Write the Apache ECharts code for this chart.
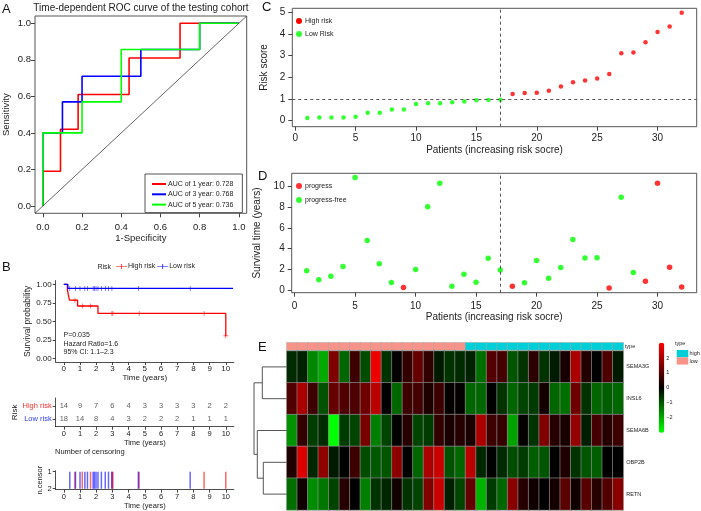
<!DOCTYPE html>
<html><head><meta charset="utf-8">
<script src="https://cdn.jsdelivr.net/npm/echarts@6/dist/echarts.min.js"></script>
<style>html,body{margin:0;padding:0;background:#fff}#c{width:701px;height:511px}</style>
</head><body><div id="c"></div>
<script>
// ================= DATA =================
// Panel A - time-dependent ROC (step curves)
const rocYears = [1, 3, 5];
const rocAUC = ['0.728', '0.768', '0.736'];
const roc1FPR = [0, 0, 0.09, 0.09, 0.18, 0.18, 0.44, 0.44, 0.70, 0.70, 1];
const roc1TPR = [0, 0.19, 0.19, 0.42, 0.42, 0.61, 0.61, 0.81, 0.81, 1, 1];
const roc3FPR = [0, 0, 0.10, 0.10, 0.20, 0.20, 0.50, 0.50, 0.80, 0.80, 1];
const roc3TPR = [0, 0.40, 0.40, 0.57, 0.57, 0.71, 0.71, 0.857, 0.857, 1, 1];
const roc5FPR = [0, 0, 0.20, 0.20, 0.40, 0.40, 0.80, 0.80, 1];
const roc5TPR = [0, 0.40, 0.40, 0.57, 0.57, 0.857, 0.857, 1, 1];
const rocTicks = [0, 0.2, 0.4, 0.6, 0.8, 1.0];

// Panel B - Kaplan-Meier
const kmGroups = ['High risk', 'Low risk'];
const kmHighT = [0, 0.22, 0.28, 0.35, 0.85, 2.11, 10.0];
const kmHighS = [1, 0.929, 0.857, 0.786, 0.707, 0.606, 0.303];
const kmLowT = [0, 0.25, 10.45];
const kmLowS = [1, 0.944, 0.944];
const censorHighT = [0.69, 1.14, 1.65, 2.97, 3.03, 4.65, 8.66, 10.0];
const censorLowT = [0.37, 0.72, 1.0, 1.3, 1.46, 1.81, 1.89, 1.99, 2.11, 2.32, 2.56, 2.76, 2.97, 4.6, 7.8];
const kmTimeTicks = [0, 1, 2, 3, 4, 5, 6, 7, 8, 9, 10];
const kmSurvTicks = [0, 0.25, 0.5, 0.75, 1.0];
const kmStats = ['P=0.035', 'Hazard Ratio=1.6', '95% CI: 1.1\u20132.3'];
const riskTableTimes = [0, 1, 2, 3, 4, 5, 6, 7, 8, 9, 10];
const riskHigh = [14, 9, 7, 6, 4, 3, 3, 3, 3, 2, 2];
const riskLow = [18, 14, 8, 4, 3, 2, 2, 2, 1, 1, 1];
const censorTickLabels = ['2', '1'];

// Panels C / D - patients ordered by risk score
const patientType = ['low','low','low','low','low','low','low','low','low','low','low','low','low','low','low','low','low',
  'high','high','high','high','high','high','high','high','high','high','high','high','high','high','high'];
const riskScore = [0.12, 0.14, 0.14, 0.14, 0.18, 0.37, 0.37, 0.51, 0.52, 0.77, 0.80, 0.80, 0.85, 0.88, 0.94, 0.95, 0.97,
  1.23, 1.28, 1.29, 1.38, 1.58, 1.77, 1.86, 1.95, 2.15, 3.11, 3.15, 3.62, 4.09, 4.35, 4.98];
const survTime = [1.89, 1.03, 1.38, 2.31, 10.8, 4.78, 2.56, 0.77, 0.29, 2.02, 8.01, 10.26, 0.42, 1.57, 0.80, 3.08, 1.96,
  0.42, 0.74, 2.88, 1.19, 2.21, 4.87, 3.11, 3.14, 0.26, 8.91, 1.73, 0.90, 10.26, 2.24, 0.35];
const survStatus = [0,0,0,0,0,0,0,0,1,0,0,0,0,0,0,0,0, 1,0,0,0,0,0,0,0,1,0,0,1,1,1,1];
const cutoffPatient = 17;
const patientTicks = [0, 5, 10, 15, 20, 25, 30];
const riskTicks = [0, 1, 2, 3, 4, 5];
const survTicks = [0, 2, 4, 6, 8, 10];

// Panel E - heatmap
const genes = ['SEMA3G', 'INSL6', 'SEMA6B', 'OBP2B', 'RETN'];
const exprSEMA3G = [-0.5,-0.4,-1.6,-2.0,1.5,-1.2,0.7,-0.9,2.8,-0.6,0.05,0.6,1.2,0.6,-0.3,-0.6,-0.5,-0.4,-1.3,1.0,0.8,-1.0,-0.6,0.5,-0.6,-0.3,0.3,2.0,0.4,0.0,0.9,-0.3];
const exprINSL6  = [0.95,2.0,0.7,-0.95,1.2,0.95,0.9,1.3,2.2,0.0,-1.2,0.7,0.8,0.35,0.7,0.05,0.05,-1.2,-1.2,0.0,-0.6,-1.2,-0.8,-0.7,0.25,-1.2,-1.3,1.3,-0.6,-1.2,-1.1,-1.2];
const exprSEMA6B = [-1.75,0.6,-0.7,-0.5,-3.0,-0.7,-0.8,1.4,-1.5,-0.8,0.0,0.45,-0.8,-0.7,0.6,0.3,0.45,0.3,2.0,0.7,0.65,-1.9,0.05,-0.6,1.5,0.45,0.3,1.75,-0.35,0.8,0.45,0.7];
const exprOBP2B  = [0.35,2.6,-0.45,1.65,-0.3,-0.05,0.7,-0.9,-1.05,-1.0,1.65,0.0,-1.2,2.0,2.35,-0.95,-1.2,2.2,-0.45,0.0,-0.5,-0.9,-0.7,-1.1,-1.0,0.0,0.35,-0.6,-1.0,-1.1,0.0,0.0];
const exprRETN   = [-1.3,0.2,-1.65,-1.4,-0.8,0.45,0.0,-1.5,-0.6,-0.45,0.2,-0.6,-0.8,1.5,2.35,-0.35,-0.8,1.2,-2.1,-0.7,-1.2,1.6,0.45,0.2,0.0,0.25,1.05,0.2,1.05,0.45,0.95,1.6];
const colorTicks = [-2, -1, 0, 1, 2];
const colorTickLabels = ['\u22122', '\u22121', '0', '1', '2'];
const typeLevels = ['high', 'low'];
// hclust-style merges: negative = leaf (1-based row), positive = earlier merge; last = height
const dendroMerges = [[-1, -2, 24.4], [-4, -5, 23.4], [-3, 2, 29.4], [1, 3, 32.7]];

// ================= STYLE =================
const FONT = 'Liberation Sans, Arial, Helvetica, sans-serif';
const TXT = '#222';
const RED = '#ff0000', BLUE = '#0000ff', GREEN = '#00ff00';
const SALMON = '#F8938A', CYAN = '#00CFD8';

function valAxis(gi, min, max, ticks, fmt, fs, margin, tickLen, extra) {
  return Object.assign({
    gridIndex: gi, type: 'value', min: min, max: max, splitLine: {show: false},
    axisLine: {show: false, onZero: false},
    axisTick: {show: true, customValues: ticks, length: tickLen, lineStyle: {color: '#444', width: 1}},
    axisLabel: {customValues: ticks, formatter: fmt, fontSize: fs, color: TXT, margin: margin, fontFamily: FONT},
    nameTextStyle: {color: TXT, fontFamily: FONT}
  }, extra || {});
}
function named(name, gap, fs, rotate) {
  const o = {name: name, nameLocation: 'middle', nameGap: gap, nameTextStyle: {fontSize: fs, color: TXT, fontFamily: FONT}};
  if (rotate) o.nameRotate = 90;
  return o;
}
const ggLine = {show: true, onZero: false, lineStyle: {color: '#222', width: 0.8}};

const grids = [
  {left: 34.3, top: 16, width: 212.4, height: 197.3, show: true, borderColor: '#555', borderWidth: 1},  // 0 ROC
  {left: 55.7, top: 280.6, width: 178.2, height: 81.4},   // 1 KM
  {left: 55.7, top: 398, width: 178.2, height: 28.7},     // 2 risk table
  {left: 55.7, top: 470.8, width: 178.2, height: 19.1},   // 3 censor
  {left: 292.3, top: 8.3, width: 404.4, height: 118.4, show: true, borderColor: '#555', borderWidth: 1}, // 4 C
  {left: 291.7, top: 173.3, width: 405, height: 119.4, show: true, borderColor: '#555', borderWidth: 1}, // 5 D
  {left: 286.7, top: 342.7, width: 336.6, height: 7.3},   // 6 type bar
  {left: 286.7, top: 351, width: 336.6, height: 159},     // 7 heatmap
  {left: 253.5, top: 351, width: 33.2, height: 159},      // 8 dendrogram
  {left: 658.7, top: 342.7, width: 5.6, height: 90}       // 9 colour bar labels
];

const f1 = v => v.toFixed(1), f2 = v => v.toFixed(2), f0 = v => String(v);
const patientsCat = patientType.map((t, i) => String(i + 1));

const xAxes = [
  valAxis(0, -0.04, 1.04, rocTicks, f1, 9.5, 9, 4, named('1-Specificity', 20, 9.5)),
  valAxis(1, -0.5, 10.5, kmTimeTicks, f0, 8, 2.5, 3, Object.assign({axisLine: ggLine}, named('Time (years)', 11, 8))),
  valAxis(2, -0.5, 10.5, kmTimeTicks, f0, 7.5, 3, 3, Object.assign({axisLine: ggLine}, named('Time (years)', 10, 7.5))),
  valAxis(3, -0.5, 10.5, kmTimeTicks, f0, 7.5, 3.5, 3, Object.assign({axisLine: ggLine}, named('Time (years)', 10, 7.5))),
  valAxis(4, -0.24, 33.24, patientTicks, f0, 10, 7, 4, named('Patients (increasing risk socre)', 19, 10)),
  valAxis(5, -0.24, 33.24, patientTicks, f0, 10, 9, 4, named('Patients (increasing risk socre)', 20, 10)),
  {gridIndex: 6, type: 'category', data: patientsCat, show: false},
  {gridIndex: 7, type: 'category', data: patientsCat, show: false},
  {gridIndex: 8, type: 'value', min: 0, max: 33.2, inverse: true, show: false},
  {gridIndex: 9, type: 'value', min: 0, max: 1, show: false}
];
const riskRowLabels = ['', 'Low risk', 'High risk'];
const yAxes = [
  valAxis(0, -0.04, 1.04, rocTicks, f1, 9.5, 4, 4, named('Sensitivity', 24, 9.5, true)),
  valAxis(1, -0.05, 1.05, kmSurvTicks, f2, 8, 4, 3, Object.assign({axisLine: ggLine}, named('Survival probability', 24, 8.5, true))),
  valAxis(2, 0.4, 2.6, [1, 2], v => v === 2 ? '{hi|' + riskRowLabels[v] + '}' : '{lo|' + riskRowLabels[v] + '}', 7.5, 4, 3,
    Object.assign({axisLine: ggLine}, named('Risk', 30, 8, true))),
  valAxis(3, -0.05, 1.05, [0, 1], v => censorTickLabels[v], 7.5, 4, 3, Object.assign({axisLine: ggLine}, named('n.censor', 8, 7.5, true))),
  valAxis(4, -0.28, 5.19, riskTicks, f0, 10, 7, 4, named('Risk score', 17, 10, true)),
  valAxis(5, -0.2, 11.2, survTicks, f0, 10, 7, 4, named('Survival time (years)', 21, 10, true)),
  {gridIndex: 6, type: 'category', data: ['type'], position: 'right', axisLine: {show: false}, axisTick: {show: false},
    axisLabel: {fontSize: 5.5, color: TXT, margin: 1.5, fontFamily: FONT}},
  {gridIndex: 7, type: 'category', data: genes, inverse: true, position: 'right', axisLine: {show: false}, axisTick: {show: false},
    axisLabel: {fontSize: 5.5, color: TXT, margin: 3, fontFamily: FONT}},
  {gridIndex: 8, type: 'value', min: -0.5, max: 4.5, inverse: true, show: false},
  {gridIndex: 9, type: 'value', min: -3.05, max: 3.05, position: 'right', axisLine: {show: false}, axisTick: {show: false},
    splitLine: {show: false},
    axisLabel: {customValues: colorTicks, formatter: v => colorTickLabels[colorTicks.indexOf(v)], fontSize: 5.5, color: TXT, margin: 2, fontFamily: FONT}}
];
yAxes[2].axisLabel.rich = {hi: {color: '#f03030', fontSize: 7.5, fontFamily: FONT}, lo: {color: '#3040f0', fontSize: 7.5, fontFamily: FONT}};

const series = [];
// ---- A: ROC
const rocF = [roc1FPR, roc3FPR, roc5FPR], rocT = [roc1TPR, roc3TPR, roc5TPR], rocCol = [RED, BLUE, GREEN];
const rocNames = rocYears.map((y, k) => 'AUC of ' + y + ' year: ' + rocAUC[k]);
rocYears.forEach((y, k) => series.push({
  type: 'line', name: rocNames[k], xAxisIndex: 0, yAxisIndex: 0, symbol: 'none',
  data: rocF[k].map((x, i) => [x, rocT[k][i]]),
  lineStyle: {color: rocCol[k], width: 1.6}, itemStyle: {color: rocCol[k]}
}));
const rx = [xAxes[0].min, xAxes[0].max];
series.push({type: 'line', xAxisIndex: 0, yAxisIndex: 0, symbol: 'none', data: [[rx[0], rx[0]], [rx[1], rx[1]]],
  lineStyle: {color: '#222', width: 0.7}});

// ---- B: KM
function survAt(T, S, t) { let s = S[0]; for (let i = 0; i < T.length; i++) if (T[i] <= t) s = S[i]; return s; }
const plusPath = 'path://M0,4.4h10v1.2h-10z M4.4,0h1.2v10h-1.2z';
const legendPlus = 'path://M0,4.3h22v1.4h-22z M10.3,0h1.4v10h-1.4z';
[[kmHighT, kmHighS, censorHighT, RED], [kmLowT, kmLowS, censorLowT, BLUE]].forEach((g, k) => {
  series.push({type: 'line', name: kmGroups[k], xAxisIndex: 1, yAxisIndex: 1, step: 'end', symbol: 'none',
    data: g[0].map((t, i) => [t, g[1][i]]), lineStyle: {color: g[3], width: 1.3}, itemStyle: {color: g[3]}, z: 3});
  series.push({type: 'scatter', xAxisIndex: 1, yAxisIndex: 1, symbol: plusPath, symbolSize: 5,
    data: g[2].map(t => [t, survAt(g[0], g[1], t)]), itemStyle: {color: g[3]}, z: 4});
});
// risk table
[[riskHigh, 2], [riskLow, 1]].forEach(r => series.push({
  type: 'scatter', xAxisIndex: 2, yAxisIndex: 2, symbolSize: 0,
  data: riskTableTimes.map((t, i) => [t, r[1], r[0][i]]),
  label: {show: true, position: 'inside', formatter: p => String(p.value[2]), fontSize: 7.5, color: '#333', fontFamily: FONT}
}));
// censoring bars
[[censorHighT, 'rgba(255,0,0,0.6)'], [censorLowT, 'rgba(0,0,255,0.6)']].forEach(c => series.push({
  type: 'bar', xAxisIndex: 3, yAxisIndex: 3, barWidth: 1.5, barGap: '-100%',
  data: c[0].map(t => [t, 1]), itemStyle: {color: c[1]}
}));

// ---- C: risk score
const hiIdx = [], loIdx = [];
patientType.forEach((t, i) => (t === 'high' ? hiIdx : loIdx).push(i));
const dashStyle = {color: '#555', width: 1, type: [3, 3]};
series.push({type: 'scatter', name: 'High risk', xAxisIndex: 4, yAxisIndex: 4, symbolSize: 4.5,
  data: hiIdx.map(i => [i + 1, riskScore[i]]), itemStyle: {color: RED},
  markLine: {silent: true, symbol: 'none', label: {show: false}, lineStyle: dashStyle,
    data: [{xAxis: cutoffPatient}, {yAxis: riskScore[cutoffPatient - 1]}]}});
series.push({type: 'scatter', name: 'Low Risk', xAxisIndex: 4, yAxisIndex: 4, symbolSize: 4.5,
  data: loIdx.map(i => [i + 1, riskScore[i]]), itemStyle: {color: GREEN}});

// ---- D: survival status
const evIdx = [], cenIdx = [];
survStatus.forEach((s, i) => (s === 1 ? evIdx : cenIdx).push(i));
series.push({type: 'scatter', name: 'progress', xAxisIndex: 5, yAxisIndex: 5, symbolSize: 5.5,
  data: evIdx.map(i => [i + 1, survTime[i]]), itemStyle: {color: RED},
  markLine: {silent: true, symbol: 'none', label: {show: false}, lineStyle: dashStyle, data: [{xAxis: cutoffPatient}]}});
series.push({type: 'scatter', name: 'progress-free', xAxisIndex: 5, yAxisIndex: 5, symbolSize: 5.5,
  data: cenIdx.map(i => [i + 1, survTime[i]]), itemStyle: {color: GREEN}});

// ---- E: heatmap
const typeSeriesIndex = series.length;
series.push({type: 'heatmap', xAxisIndex: 6, yAxisIndex: 6,
  data: patientType.map((t, i) => [i, 0, typeLevels.indexOf(t)]),
  itemStyle: {borderColor: '#a8a8a8', borderWidth: 0.5}});
const heatSeriesIndex = series.length;
const expr = [exprSEMA3G, exprINSL6, exprSEMA6B, exprOBP2B, exprRETN];
const heatData = [];
expr.forEach((row, r) => row.forEach((v, c) => heatData.push([c, r, v])));
series.push({type: 'heatmap', xAxisIndex: 7, yAxisIndex: 7, data: heatData,
  itemStyle: {borderColor: '#9a9a9a', borderWidth: 0.6}});
// dendrogram
const nodePos = [];  // merge nodes: [height, y]
function posOf(id) { return id < 0 ? [0, -id - 1] : nodePos[id - 1]; }
const dendroLines = dendroMerges.map(m => {
  const a = posOf(m[0]), b = posOf(m[1]), h = m[2];
  nodePos.push([h, (a[1] + b[1]) / 2]);
  return {coords: [[a[0], a[1]], [h, a[1]], [h, b[1]], [b[0], b[1]]]};
});
series.push({type: 'lines', coordinateSystem: 'cartesian2d', xAxisIndex: 8, yAxisIndex: 8, polyline: true,
  data: dendroLines, lineStyle: {color: '#555', width: 1, opacity: 1}, silent: true});
series.push({type: 'scatter', xAxisIndex: 9, yAxisIndex: 9, data: []});

const T = (text, x, y, fs, opts) => ({type: 'text', x: x, y: y, silent: true,
  style: Object.assign({text: text, fontSize: fs, fontFamily: FONT, fill: TXT,
    textAlign: 'left', textVerticalAlign: 'middle', align: 'left', verticalAlign: 'middle'}, opts || {})});

const graphic = [
  T('A', 2, 9, 13, {fill: '#111'}), T('B', 2, 267, 13, {fill: '#111'}), T('C', 262, 7, 13, {fill: '#111'}),
  T('D', 258, 176, 13, {fill: '#111'}), T('E', 258, 347, 13, {fill: '#111'}),
  T('Time-dependent ROC curve of the testing cohort', 141, 8, 10, {textAlign: 'center', align: 'center'}),
  T('Risk', 97.5, 267, 7),
  T(kmStats[0], 63.5, 335.3, 7), T(kmStats[1], 63.5, 343.7, 7), T(kmStats[2], 63.5, 352, 7),
  T('Number of censoring', 55, 452, 7.5),
  T('type', 675, 343.5, 5.5),
  {type: 'rect', shape: {x: 676.7, y: 350, width: 11.6, height: 7.3}, style: {fill: CYAN}, silent: true},
  {type: 'rect', shape: {x: 676.7, y: 357.3, width: 11.6, height: 7.3}, style: {fill: SALMON}, silent: true},
  T(typeLevels[0], 689.5, 353.7, 5.5), T(typeLevels[1], 689.5, 361, 5.5)
];

const option = {
  animation: false,
  textStyle: {fontFamily: FONT},
  grid: grids, xAxis: xAxes, yAxis: yAxes, series: series, graphic: graphic,
  legend: [
    {data: rocNames, left: 145, top: 174, orient: 'vertical', padding: [6, 9, 4, 7], itemGap: 2.3,
      itemWidth: 14, itemHeight: 2, icon: 'rect', borderColor: '#555', borderWidth: 1, backgroundColor: '#fff',
      textStyle: {fontSize: 7, color: TXT, lineHeight: 8, padding: [0, 0, 0, -3]}, selectedMode: false},
    {data: kmGroups, left: 116, top: 263, orient: 'horizontal', padding: 0, itemGap: 2,
      itemWidth: 11, itemHeight: 5, icon: legendPlus,
      textStyle: {fontSize: 7, color: TXT, padding: [0, 0, 0, -4]}, selectedMode: false},
    {data: ['High risk', 'Low Risk'], left: 296, top: 17, orient: 'vertical', padding: 0, itemGap: 5,
      itemWidth: 6, itemHeight: 6, icon: 'circle', textStyle: {fontSize: 7, color: TXT, lineHeight: 8, padding: [0, 0, 0, -2]}, selectedMode: false},
    {data: ['progress', 'progress-free'], left: 296, top: 182, orient: 'vertical', padding: 0, itemGap: 6,
      itemWidth: 6, itemHeight: 6, icon: 'circle', textStyle: {fontSize: 7, color: TXT, lineHeight: 8, padding: [0, 0, 0, -2]}, selectedMode: false}
  ],
  visualMap: [
    {type: 'continuous', seriesIndex: heatSeriesIndex, dimension: 2, min: -3, max: 3, calculable: false,
      left: 658.7, top: 342.7, itemWidth: 5.6, itemHeight: 90, padding: 0, text: null, hoverLink: false,
      inRange: {color: ['#00ff00', '#000000', '#ff0000']}},
    {type: 'piecewise', seriesIndex: typeSeriesIndex, dimension: 2, show: false,
      pieces: [{value: 0, color: CYAN}, {value: 1, color: SALMON}]}
  ]
};
const chart = echarts.init(document.getElementById('c'), null, {renderer: 'canvas', width: 701, height: 511});
chart.setOption(option);
</script></body></html>
